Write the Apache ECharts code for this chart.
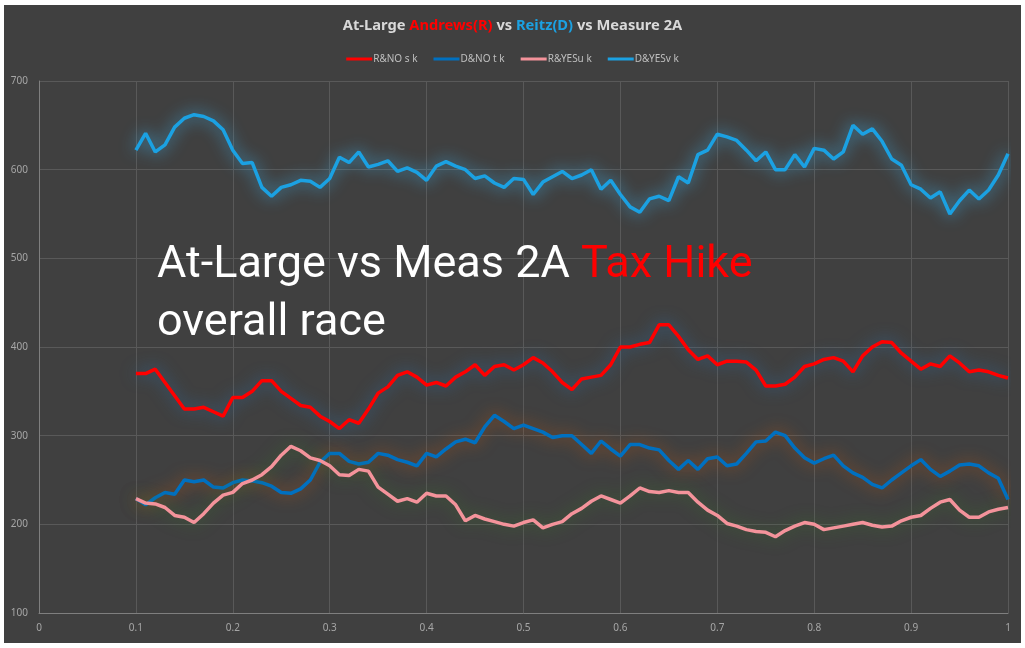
<!DOCTYPE html>
<html>
<head>
<meta charset="utf-8">
<script src="https://cdn.jsdelivr.net/npm/echarts@6/dist/echarts.min.js"></script>
<style>
  html, body { margin: 0; padding: 0; background: #ffffff; }
  #chart { position: absolute; left: 4px; top: 5px; width: 1017px; height: 638px; background: #404040; }
</style>
</head>
<body>
<div id="chart"></div>
<script>
// sample positions: 0.10 .. 1.00 in steps of 0.01
var xStart = 0.10, xStep = 0.01;

var rNo = [370,370,375,360,345,330,330,332,327,322,
           343,343,350,362,362,350,342,334,332,322,
           316,308,318,314,330,348,355,368,372,366,
           357,360,356,366,372,380,368,378,380,374,
           380,388,382,372,360,352,364,366,368,380,
           400,400,403,405,425,425,412,397,386,390,
           380,384,384,383,374,356,356,358,366,378,
           381,386,388,384,372,390,400,406,405,393,
           384,375,381,378,390,382,372,374,372,368,
           365];

var dNo = [229,222,230,236,234,250,248,250,242,241,
           247,250,249,247,243,236,235,240,250,270,
           280,280,271,268,270,280,278,273,270,266,
           280,276,285,293,296,292,310,323,316,308,
           312,308,304,298,300,300,290,280,294,285,
           277,290,290,286,284,272,262,272,262,274,
           276,266,268,280,293,294,304,300,286,275,
           269,274,278,266,258,253,245,241,250,258,
           266,273,262,254,260,267,268,266,258,252,
           228];

var rYes = [229,224,223,219,210,208,202,212,224,233,
            236,246,250,256,265,278,288,283,275,272,
            266,256,255,262,260,242,234,226,229,225,
            235,232,232,222,204,210,206,203,200,198,
            202,205,196,200,203,212,218,226,232,228,
            224,232,241,237,236,238,236,236,225,216,
            210,201,198,194,192,191,186,193,198,202,
            200,194,196,198,200,202,199,197,198,204,
            208,210,218,225,228,216,208,208,214,217,
            219];

var dYes = [622,641,620,628,648,658,662,660,655,645,
            622,607,608,580,570,580,583,588,587,580,
            590,614,608,620,603,606,610,598,602,597,
            588,604,609,604,600,590,593,585,580,590,
            589,572,586,592,598,590,594,600,578,588,
            572,558,552,567,570,565,592,585,617,622,
            640,637,633,622,610,620,600,600,617,603,
            624,622,612,620,650,640,646,632,612,605,
            583,578,568,575,550,565,577,567,577,594,
            618];

var names = ['R&NO s k', 'D&NO t k', 'R&YESu k', 'D&YESv k'];

function pairs(vals) {
  return vals.map(function (v, i) {
    return [+(xStart + i * xStep).toFixed(2), v];
  });
}

function line(name, vals, color, glow) {
  return {
    name: name,
    type: 'line',
    data: pairs(vals),
    symbol: 'none',
    smooth: false,
    lineStyle: { color: color, width: 3.5, shadowBlur: 16, shadowColor: glow },
    itemStyle: { color: color },
    emphasis: { disabled: true }
  };
}

var chart = echarts.init(document.getElementById('chart'));
var option = {
  backgroundColor: '#404040',
  animation: false,
  title: {
    text: '{w|At-Large }{r|Andrews(R)}{w| vs }{b|Reitz(D)}{w| vs Measure 2A}',
    left: 'center',
    top: 8,
    textStyle: {
      rich: {
        w: { color: '#d9d9d9', fontSize: 14.7, fontWeight: 'bold', fontFamily: 'Noto Sans' },
        r: { color: '#ff0000', fontSize: 14.7, fontWeight: 'bold', fontFamily: 'Noto Sans' },
        b: { color: '#1ba1e2', fontSize: 14.7, fontWeight: 'bold', fontFamily: 'Noto Sans' }
      }
    }
  },
  legend: {
    top: 44,
    left: 'center',
    itemWidth: 26,
    itemHeight: 3,
    itemGap: 16,
    icon: 'rect',
    data: names,
    textStyle: { color: '#bfbfbf', fontSize: 10, fontFamily: 'Noto Sans', padding: [0, 0, 0, -4] }
  },
  grid: { left: 35, top: 76, width: 969, height: 532, containLabel: false },
  xAxis: {
    type: 'value',
    min: 0, max: 1, interval: 0.1,
    axisLine: { show: true, lineStyle: { color: '#7f7f7f' } },
    axisTick: { show: false },
    splitLine: { show: true, lineStyle: { color: '#595959', width: 1 } },
    axisLabel: { color: '#a6a6a6', fontSize: 10, margin: 10, fontFamily: 'Noto Sans' }
  },
  yAxis: {
    type: 'value',
    min: 100, max: 700, interval: 100,
    axisLine: { show: true, lineStyle: { color: '#7f7f7f' } },
    axisTick: { show: false },
    splitLine: { show: true, lineStyle: { color: '#595959', width: 1 } },
    axisLabel: { color: '#a6a6a6', fontSize: 10, margin: 11, fontFamily: 'Noto Sans' }
  },
  graphic: [{
    type: 'text',
    left: 153,
    top: 238,
    z: 100,
    style: {
      text: '{w|At-Large vs Meas 2A }{r|Tax Hike}\n{w|overall race}',
      rich: {
        w: { fill: '#ffffff', fontSize: 45, fontFamily: 'Roboto', lineHeight: 58 },
        r: { fill: '#ff0000', fontSize: 45, fontFamily: 'Roboto', lineHeight: 58 }
      }
    }
  }],
  series: [
    line(names[0], rNo, '#ff0000', 'rgba(46,117,182,0.75)'),
    line(names[1], dNo, '#0070c0', 'rgba(197,90,17,0.75)'),
    line(names[2], rYes, '#f4939b', 'rgba(56,120,40,0.75)'),
    line(names[3], dYes, '#1ba1e2', 'rgba(60,190,255,0.85)')
  ]
};
chart.setOption(option);
</script>
</body>
</html>
